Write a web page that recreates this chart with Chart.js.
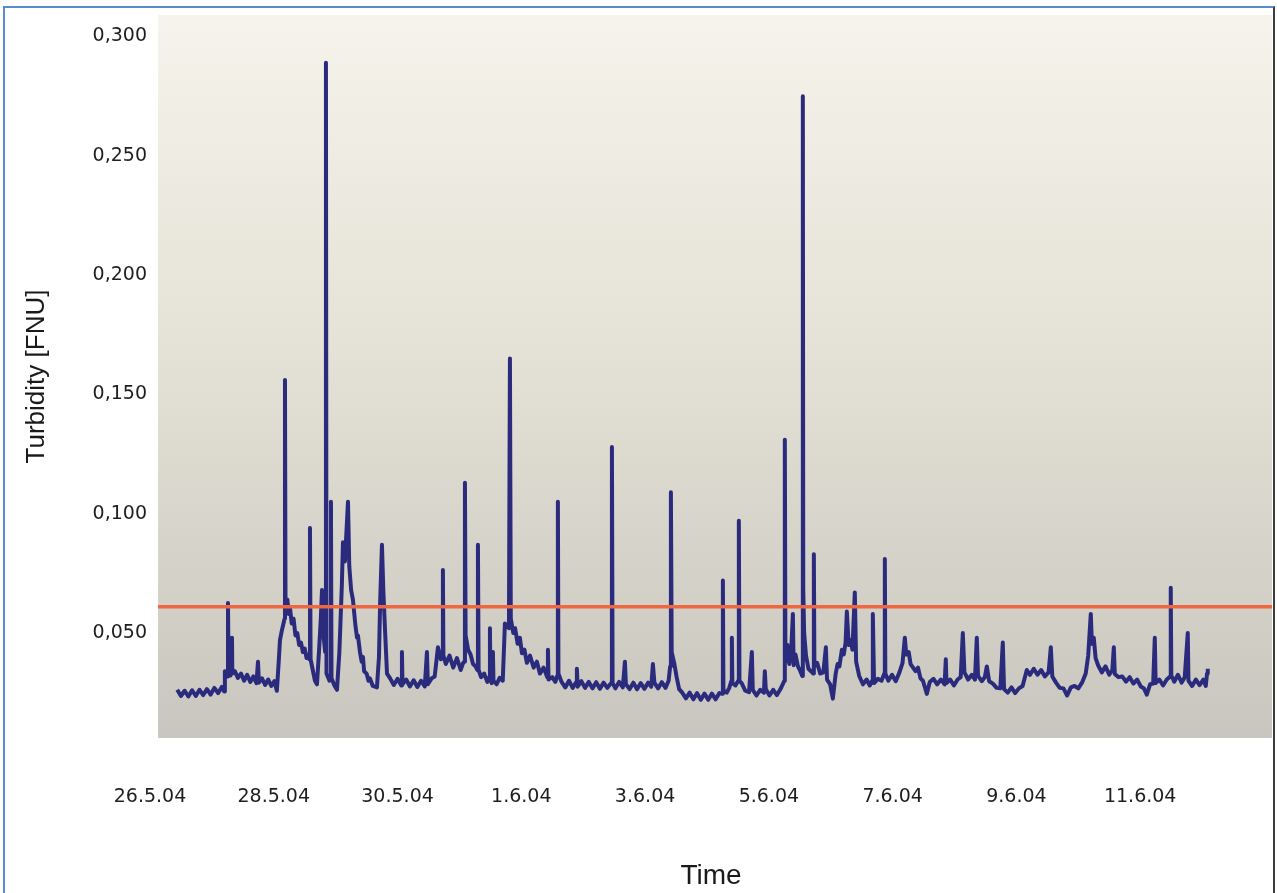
<!DOCTYPE html>
<html>
<head>
<meta charset="utf-8">
<script src="https://cdn.jsdelivr.net/npm/chart.js@4.4.1/dist/chart.umd.min.js"></script>
<style>
  html, body { margin: 0; padding: 0; background: #fff; overflow: hidden; }
  #wrap { position: relative; width: 1277px; height: 893px; }
  #frame { position: absolute; left: 3px; top: 6px; width: 1268px; height: 900px;
           border-left: 2px solid #5a8ad0; border-top: 2px solid #5a8ad0; border-right: 2px solid #3c3c3c; }
  canvas { position: absolute; left: 0; top: 0; }
</style>
</head>
<body>
<div id="wrap">
  <div id="frame"></div>
  <canvas id="myChart" width="1277" height="893"></canvas>
</div>
<script>
// x = days after 26.5.04 00:00, y = turbidity in FNU
const tickDays = [0, 2, 4, 6, 8, 10, 12, 14, 16];
const dateLabels = ["26.5.04", "28.5.04", "30.5.04", "1.6.04", "3.6.04", "5.6.04", "7.6.04", "9.6.04", "11.6.04"];
const yTicks = [0.05, 0.10, 0.15, 0.20, 0.25, 0.30];
const thresholdLevel = 0.061;
const dayRange = [0, 18.13];
const panelStartDay = 0.13;

const turbidity = [
  [0.44,0.0262],[0.50,0.0236],[0.56,0.0258],[0.62,0.0234],[0.68,0.0260],[0.74,0.0236],[0.80,0.0262],[0.86,0.0240],
  [0.92,0.0265],[0.98,0.0242],[1.04,0.0270],[1.10,0.0248],[1.16,0.0274],[1.20,0.0255],
  [1.21,0.0340],[1.25,0.0318],[1.26,0.0626],[1.27,0.0350],[1.30,0.0322],[1.32,0.0345],[1.325,0.0480],[1.33,0.0330],
  [1.37,0.0340],[1.42,0.0312],[1.47,0.0330],[1.52,0.0300],[1.57,0.0325],[1.62,0.0295],[1.67,0.0318],[1.72,0.0290],
  [1.745,0.0380],[1.76,0.0292],[1.81,0.0310],[1.86,0.0282],[1.91,0.0305],[1.96,0.0278],[2.01,0.0298],[2.05,0.0258],
  [2.08,0.0380],[2.10,0.0470],[2.13,0.0510],[2.175,0.0560],[2.181,0.1560],[2.19,0.0610],[2.22,0.0640],[2.24,0.0580],
  [2.26,0.0610],[2.29,0.0540],[2.32,0.0560],[2.35,0.0490],[2.38,0.0500],[2.41,0.0450],[2.44,0.0460],[2.47,0.0420],
  [2.50,0.0435],[2.53,0.0395],[2.56,0.0410],[2.575,0.0390],[2.585,0.0940],[2.595,0.0390],[2.63,0.0345],[2.666,0.0300],
  [2.698,0.0285],[2.73,0.0420],[2.76,0.0560],[2.779,0.0680],[2.80,0.0500],[2.83,0.0420],[2.843,0.2890],[2.852,0.0330],
  [2.90,0.0300],[2.915,0.0320],[2.924,0.1050],[2.933,0.0310],[2.98,0.0280],[3.021,0.0262],[3.06,0.0420],[3.10,0.0700],
  [3.118,0.0880],[3.15,0.0800],[3.199,0.1050],[3.22,0.0780],[3.25,0.0680],[3.279,0.0640],[3.32,0.0530],[3.345,0.0480],
  [3.36,0.0490],[3.393,0.0420],[3.42,0.0380],[3.441,0.0400],[3.46,0.0340],[3.50,0.0330],[3.53,0.0300],[3.554,0.0310],
  [3.60,0.0278],[3.667,0.0272],[3.70,0.0400],[3.72,0.0640],[3.748,0.0870],[3.77,0.0680],[3.80,0.0500],[3.83,0.0330],
  [3.88,0.0310],[3.94,0.0282],[4.00,0.0308],[4.06,0.0280],[4.071,0.0420],[4.08,0.0285],[4.14,0.0305],[4.20,0.0276],
  [4.26,0.0302],[4.32,0.0274],[4.38,0.0300],[4.44,0.0276],[4.475,0.0420],[4.49,0.0285],[4.55,0.0310],[4.60,0.0318],
  [4.653,0.0440],[4.70,0.0390],[4.725,0.0420],[4.733,0.0764],[4.741,0.0405],[4.78,0.0370],[4.84,0.0405],[4.90,0.0355],
  [4.96,0.0395],[5.02,0.0345],[5.06,0.0375],
  [5.08,0.0380],[5.089,0.1130],[5.10,0.0490],[5.14,0.0430],[5.18,0.0410],[5.22,0.0370],[5.26,0.0360],[5.29,0.0345],
  [5.299,0.0870],[5.31,0.0345],[5.35,0.0315],[5.40,0.0330],[5.45,0.0295],[5.48,0.0315],[5.493,0.0520],[5.50,0.0310],
  [5.52,0.0290],[5.541,0.0420],[5.55,0.0300],[5.60,0.0285],[5.65,0.0312],[5.70,0.0300],[5.735,0.0540],[5.80,0.0520],
  [5.816,0.1650],[5.83,0.0560],[5.87,0.0500],[5.90,0.0520],[5.94,0.0455],[5.977,0.0480],[6.01,0.0415],[6.05,0.0430],
  [6.09,0.0375],[6.14,0.0405],[6.20,0.0355],[6.252,0.0380],[6.30,0.0330],[6.36,0.0355],[6.42,0.0315],[6.43,0.0430],
  [6.44,0.0305],[6.50,0.0315],[6.55,0.0295],[6.58,0.0320],[6.591,0.1050],[6.60,0.0330],
  [6.65,0.0295],[6.71,0.0272],[6.77,0.0300],[6.83,0.0270],[6.89,0.0296],[6.898,0.0350],[6.91,0.0275],[6.97,0.0298],
  [7.03,0.0270],[7.09,0.0295],[7.15,0.0268],[7.21,0.0294],[7.27,0.0266],[7.33,0.0292],[7.39,0.0270],[7.45,0.0290],
  [7.464,0.1280],[7.475,0.0290],[7.52,0.0268],[7.58,0.0295],[7.64,0.0272],[7.674,0.0380],[7.69,0.0285],[7.75,0.0265],
  [7.81,0.0292],[7.87,0.0264],[7.93,0.0290],[7.99,0.0266],[8.05,0.0292],[8.10,0.0275],[8.126,0.0370],[8.15,0.0292],
  [8.21,0.0268],[8.27,0.0294],[8.33,0.0270],[8.38,0.0300],[8.405,0.0360],[8.417,0.1090],[8.43,0.0420],[8.47,0.0375],
  [8.51,0.0315],[8.55,0.0265],[8.60,0.0250],[8.66,0.0226],[8.72,0.0250],[8.78,0.0222],[8.84,0.0248],[8.90,0.0220],
  [8.96,0.0246],[9.02,0.0220],[9.08,0.0246],[9.14,0.0222],[9.20,0.0248],[9.248,0.0245],
  [9.257,0.0720],[9.266,0.0260],[9.32,0.0250],[9.36,0.0270],[9.395,0.0300],[9.402,0.0480],[9.41,0.0290],[9.46,0.0280],
  [9.505,0.0300],[9.515,0.0970],[9.525,0.0300],[9.56,0.0290],[9.62,0.0258],[9.68,0.0252],[9.725,0.0420],[9.74,0.0262],
  [9.80,0.0238],[9.86,0.0262],[9.92,0.0250],[9.935,0.0340],[9.95,0.0265],[10.01,0.0238],[10.07,0.0262],[10.13,0.0240],
  [10.19,0.0266],[10.25,0.0300],[10.258,0.1310],[10.268,0.0380],[10.30,0.0450],[10.33,0.0370],[10.36,0.0420],[10.388,0.0580],
  [10.40,0.0365],[10.43,0.0410],[10.47,0.0360],[10.50,0.0345],[10.54,0.0320],[10.549,0.2750],[10.556,0.0680],[10.57,0.0500],
  [10.60,0.0405],[10.64,0.0350],[10.68,0.0340],[10.718,0.0330],[10.727,0.0830],[10.736,0.0360],[10.78,0.0375],[10.83,0.0330],
  [10.88,0.0335],[10.921,0.0440],[10.94,0.0305],[10.99,0.0285],[11.034,0.0225],
  [11.08,0.0330],[11.11,0.0370],[11.14,0.0360],[11.18,0.0430],[11.21,0.0410],[11.24,0.0460],[11.26,0.0590],[11.29,0.0450],
  [11.32,0.0470],[11.35,0.0430],[11.389,0.0670],[11.41,0.0380],[11.46,0.0320],[11.52,0.0285],[11.58,0.0305],[11.63,0.0280],
  [11.67,0.0300],[11.68,0.0580],[11.70,0.0290],[11.76,0.0308],[11.82,0.0300],[11.866,0.0330],[11.874,0.0810],[11.882,0.0330],
  [11.93,0.0300],[11.99,0.0325],[12.05,0.0298],[12.11,0.0335],[12.16,0.0375],[12.197,0.0480],[12.22,0.0410],[12.26,0.0420],
  [12.29,0.0370],[12.33,0.0355],[12.37,0.0340],[12.41,0.0355],[12.45,0.0310],[12.49,0.0300],[12.553,0.0245],[12.60,0.0295],
  [12.66,0.0308],[12.72,0.0285],[12.78,0.0305],[12.84,0.0285],[12.859,0.0390],[12.87,0.0290],[12.93,0.0305],[12.99,0.0280],
  [13.05,0.0305],[13.10,0.0315],[13.134,0.0500],[13.16,0.0335],[13.22,0.0305],[13.28,0.0325],[13.33,0.0305],[13.36,0.0480],
  [13.38,0.0320],[13.44,0.0298],[13.49,0.0315],[13.522,0.0360],[13.56,0.0298],[13.62,0.0288],[13.68,0.0270],[13.74,0.0268],
  [13.78,0.0460],[13.80,0.0265],[13.86,0.0250],[13.92,0.0272],[13.98,0.0248],[14.04,0.0268],[14.10,0.0278],[14.168,0.0345],
  [14.22,0.0325],[14.28,0.0350],[14.34,0.0325],[14.40,0.0345],[14.46,0.0318],[14.52,0.0335],[14.556,0.0440],[14.58,0.0318],
  [14.64,0.0292],[14.70,0.0270],[14.76,0.0268],[14.82,0.0238],[14.88,0.0272],[14.94,0.0278],[15.00,0.0268],[15.06,0.0292],
  [15.12,0.0330],[15.16,0.0405],[15.202,0.0580],[15.22,0.0455],[15.25,0.0480],[15.28,0.0395],[15.32,0.0365],[15.38,0.0335],
  [15.44,0.0360],[15.50,0.0325],[15.55,0.0345],[15.574,0.0440],[15.59,0.0328],[15.65,0.0315],[15.71,0.0318],[15.77,0.0296],
  [15.83,0.0315],[15.89,0.0288],[15.95,0.0305],[16.01,0.0276],[16.06,0.0268],[16.107,0.0242],[16.16,0.0285],[16.21,0.0288],
  [16.236,0.0480],[16.25,0.0290],[16.31,0.0305],[16.37,0.0280],[16.43,0.0305],[16.485,0.0318],[16.494,0.0690],[16.503,0.0322],
  [16.55,0.0296],[16.61,0.0325],[16.67,0.0292],[16.72,0.0315],[16.769,0.0500],[16.78,0.0300],[16.84,0.0278],[16.90,0.0305],
  [16.96,0.0282],[17.02,0.0305],[17.06,0.0278],[17.08,0.0330],[17.092,0.0350]
];

// gradient panel behind the plot
const panelBackground = {
  id: "panelBackground",
  beforeDatasetsDraw(chart) {
    const { ctx, chartArea } = chart;
    const x0 = chart.scales.x.getPixelForValue(panelStartDay);
    const g = ctx.createLinearGradient(0, chartArea.top, 0, chartArea.bottom);
    g.addColorStop(0, "#f5f3eb");
    g.addColorStop(0.45, "#e5e2d7");
    g.addColorStop(1, "#c8c6be");
    ctx.save();
    ctx.fillStyle = g;
    ctx.fillRect(x0, chartArea.top, chartArea.right - x0, chartArea.bottom - chartArea.top);
    ctx.restore();
  }
};

document.addEventListener("DOMContentLoaded", function () {
  const ctx = document.getElementById("myChart").getContext("2d");
  new Chart(ctx, {
    type: "line",
    data: {
      datasets: [
        {
          label: "Limit",
          data: [{ x: panelStartDay, y: thresholdLevel }, { x: dayRange[1], y: thresholdLevel }],
          borderColor: "#f0663e",
          borderWidth: 3.5,
          pointRadius: 0
        },
        {
          label: "Turbidity",
          data: turbidity.map(p => ({ x: p[0], y: p[1] })),
          borderColor: "#2b2b7e",
          borderWidth: 4,
          borderJoinStyle: "round",
          pointRadius: 0,
          tension: 0
        }
      ]
    },
    options: {
      responsive: false,
      animation: false,
      layout: { padding: { top: 15, right: 5, left: 0, bottom: 0 } },
      plugins: { legend: { display: false }, tooltip: { enabled: false } },
      scales: {
        x: {
          type: "linear",
          min: dayRange[0],
          max: dayRange[1],
          grid: { display: false },
          border: { display: false },
          afterFit: s => { s.height = 155; },
          afterBuildTicks: s => { s.ticks = tickDays.map(v => ({ value: v })); },
          ticks: {
            autoSkip: false,
            maxRotation: 0,
            padding: 40,
            color: "#1e1e1e",
            font: { family: "DejaVu Sans", size: 19 },
            callback: (v, i) => dateLabels[i]
          },
          title: {
            display: true,
            text: "Time",
            color: "#1a1a1a",
            padding: { top: 0, bottom: 0 },
            font: { family: "Liberation Sans", size: 28 }
          }
        },
        y: {
          min: 0.006,
          max: 0.309,
          grid: { display: false },
          border: { display: false },
          afterFit: s => { s.width = 150; },
          afterBuildTicks: s => { s.ticks = yTicks.map(v => ({ value: v })); },
          ticks: {
            padding: -5,
            color: "#1e1e1e",
            font: { family: "DejaVu Sans", size: 19 },
            callback: v => v.toFixed(3).replace(".", ",")
          },
          title: {
            display: true,
            text: "Turbidity [FNU]",
            color: "#1a1a1a",
            padding: { top: 21, bottom: 0 },
            font: { family: "Liberation Sans", size: 26 }
          }
        }
      }
    },
    plugins: [panelBackground]
  });
});
</script>
</body>
</html>
